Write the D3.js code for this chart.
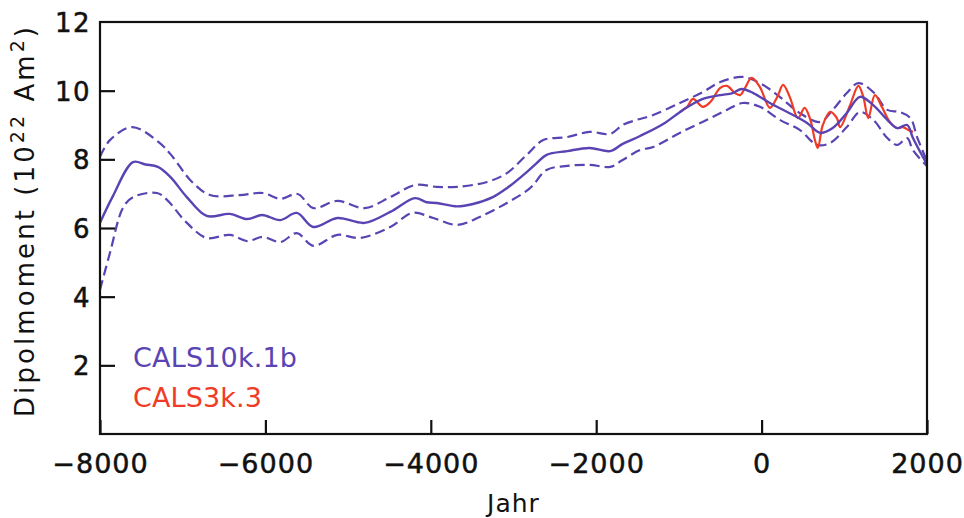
<!DOCTYPE html>
<html>
<head>
<meta charset="utf-8">
<script src="https://cdn.jsdelivr.net/npm/d3@7"></script>
<style>
  html, body { margin: 0; padding: 0; background: #fff; }
  svg { display: block; }
  text { font-family: "DejaVu Sans", sans-serif; fill: #111; }
</style>
</head>
<body>
<svg id="chart" width="964" height="518"></svg>
<script>
// ---- data ----
const xTicks = [-8000, -6000, -4000, -2000, 0, 2000];
const yTicks = [2, 4, 6, 8, 10, 12];

const mainYears  = [-8000,-7850,-7600,-7450,-7300,-7150,-6950,-6710,-6430,-6220,-6040,-5820,-5620,-5420,-5130,-4800,-4490,-4190,-4050,-3930,-3680,-3490,-3250,-3080,-2840,-2720,-2600,-2350,-2080,-1830,-1680,-1470,-1190,-950,-710,-500,-350,-240,-100,100,310,550,710,860,1030,1190,1350,1520,1640,1760,1830,2000];
const mainValues = [6.15,6.9,7.92,7.85,7.78,7.49,6.9,6.35,6.41,6.26,6.38,6.23,6.44,6.03,6.29,6.15,6.47,6.87,6.75,6.73,6.63,6.70,6.9,7.16,7.63,7.89,8.13,8.24,8.33,8.24,8.45,8.68,9.03,9.44,9.76,9.87,9.93,10.05,9.93,9.64,9.38,9.06,8.77,8.91,9.35,9.82,9.58,9.15,8.91,9.0,8.62,7.85];

const upperYears  = [-8000,-7880,-7610,-7280,-7120,-6910,-6670,-6310,-6030,-5820,-5610,-5420,-5130,-4800,-4490,-4190,-3930,-3680,-3320,-3080,-2840,-2640,-2350,-2080,-1830,-1680,-1510,-1310,-990,-710,-500,-230,-20,220,460,710,860,1030,1170,1350,1520,1670,1800,1880,2000];
const upperValues = [8.07,8.56,8.94,8.48,8.07,7.4,6.96,6.96,7.02,6.85,6.99,6.58,6.79,6.58,6.9,7.25,7.2,7.2,7.34,7.6,8.13,8.56,8.65,8.8,8.74,9.0,9.15,9.29,9.64,9.96,10.25,10.4,10.22,9.82,9.35,9.09,9.44,9.93,10.22,9.96,9.44,9.38,9.2,8.65,7.95];

const lowerYears  = [-8000,-7880,-7720,-7600,-7310,-7190,-6950,-6710,-6430,-6220,-6030,-5820,-5620,-5420,-5130,-4860,-4490,-4220,-3970,-3680,-3410,-3080,-2800,-2600,-2350,-2080,-1830,-1680,-1470,-1310,-990,-660,-420,-230,-20,220,460,670,830,1030,1190,1350,1520,1640,1760,1830,2000];
const lowerValues = [4.2,5.27,6.6,6.9,7.02,6.82,6.15,5.71,5.8,5.62,5.74,5.59,5.85,5.48,5.8,5.71,6.03,6.44,6.29,6.09,6.32,6.73,7.16,7.69,7.81,7.84,7.78,7.98,8.27,8.36,8.77,9.15,9.44,9.64,9.53,9.15,8.86,8.42,8.48,8.94,9.38,9.15,8.62,8.42,8.62,8.27,7.8];

const redYears  = [-990,-900,-830,-710,-620,-500,-420,-320,-260,-200,-120,-20,100,190,260,340,440,520,590,645,680,740,830,910,950,1070,1170,1230,1290,1370,1460,1550,1640,1710,1770,1830];
const redValues = [9.38,9.53,9.76,9.53,9.67,10.08,10.14,9.93,9.87,10.08,10.37,10.1,9.5,9.82,10.17,9.82,9.2,9.5,9.15,8.56,8.33,9.0,9.38,9.2,8.94,9.58,10.14,9.82,9.2,9.87,9.5,9.09,8.91,8.94,8.86,8.8];

const legendLabels = ["CALS10k.1b", "CALS3k.3"];
// ---------------------------------------

const purple = "#5a43b2";
const red = "#f03c26";

const svg = d3.select("#chart");
svg.append("rect").attr("width", 964).attr("height", 518).attr("fill", "#fff");

const L = 100, R = 927, T = 22, B = 434;
const x = d3.scaleLinear().domain([-8000, 2000]).range([L, R]);
const y = d3.scaleLinear().domain([0, 12]).range([B, T]);

svg.append("clipPath").attr("id", "clip")
  .append("rect").attr("x", L).attr("y", T).attr("width", R - L).attr("height", B - T);

const plot = svg.append("g").attr("clip-path", "url(#clip)");

const line = d3.line()
  .x(d => x(d[0])).y(d => y(d[1]))
  .curve(d3.curveCatmullRom.alpha(0.5));
const zip = (a, b) => a.map((v, i) => [v, b[i]]);

plot.append("path").datum(zip(upperYears, upperValues))
  .attr("d", line).attr("fill", "none").attr("stroke", purple)
  .attr("stroke-width", 2.2).attr("stroke-dasharray", "10,5");
plot.append("path").datum(zip(lowerYears, lowerValues))
  .attr("d", line).attr("fill", "none").attr("stroke", purple)
  .attr("stroke-width", 2.2).attr("stroke-dasharray", "10,5");
plot.append("path").datum(zip(redYears, redValues))
  .attr("d", line).attr("fill", "none").attr("stroke", red)
  .attr("stroke-width", 2.2);
plot.append("path").datum(zip(mainYears, mainValues))
  .attr("d", line).attr("fill", "none").attr("stroke", purple)
  .attr("stroke-width", 2.4);

// frame
svg.append("rect").attr("x", L).attr("y", T).attr("width", R - L).attr("height", B - T)
  .attr("fill", "none").attr("stroke", "#111").attr("stroke-width", 2.2);

// axes
const fmt = d3.format("d");
const xAxis = d3.axisBottom(x).tickValues(xTicks).tickFormat(fmt)
  .tickSizeInner(-14).tickSizeOuter(0).tickPadding(20);
const gx = svg.append("g").attr("transform", `translate(0,${B})`).call(xAxis);
gx.select(".domain").remove();
gx.selectAll(".tick line").attr("stroke", "#111").attr("stroke-width", 2.2);
gx.selectAll(".tick text").attr("font-size", 27).attr("letter-spacing", "1px")
  .attr("font-family", "DejaVu Sans").attr("fill", "#111")
  .attr("stroke", "#111").attr("stroke-width", 0.5).attr("dy", "0.71em");

const yAxis = d3.axisLeft(y).tickValues(yTicks).tickFormat(fmt)
  .tickSizeInner(-15).tickSizeOuter(0).tickPadding(9);
const gy = svg.append("g").attr("transform", `translate(${L},0)`).call(yAxis);
gy.select(".domain").remove();
gy.selectAll(".tick line").attr("stroke", "#111").attr("stroke-width", 2.2)
  .filter(d => d === 12).remove();
gy.selectAll(".tick text").attr("font-size", 26).attr("letter-spacing", "1.5px")
  .attr("font-family", "DejaVu Sans").attr("fill", "#111")
  .attr("stroke", "#111").attr("stroke-width", 0.5).attr("dy", "0.36em");

// x label
svg.append("text").attr("x", (L + R) / 2).attr("y", 512)
  .attr("text-anchor", "middle").attr("font-size", 25).attr("letter-spacing", "1px")
  .text("Jahr");

// y label
const yl = svg.append("text")
  .attr("transform", "translate(34,222) rotate(-90)")
  .attr("text-anchor", "middle").attr("font-size", 26)
  .attr("textLength", 390).attr("lengthAdjust", "spacing");
yl.append("tspan").text("Dipolmoment  (10");
yl.append("tspan").attr("dy", -10).attr("font-size", 19).text("22");
yl.append("tspan").attr("dy", 10).text("  Am");
yl.append("tspan").attr("dy", -10).attr("font-size", 19).text("2");
yl.append("tspan").attr("dy", 10).text(")");

// legend
svg.append("text").attr("x", 133).attr("y", 367).attr("font-size", 27)
  .style("fill", purple)
  .attr("textLength", 164).attr("lengthAdjust", "spacing").text(legendLabels[0]);
svg.append("text").attr("x", 133).attr("y", 407).attr("font-size", 27)
  .style("fill", red)
  .attr("textLength", 129).attr("lengthAdjust", "spacing").text(legendLabels[1]);
</script>
</body>
</html>
